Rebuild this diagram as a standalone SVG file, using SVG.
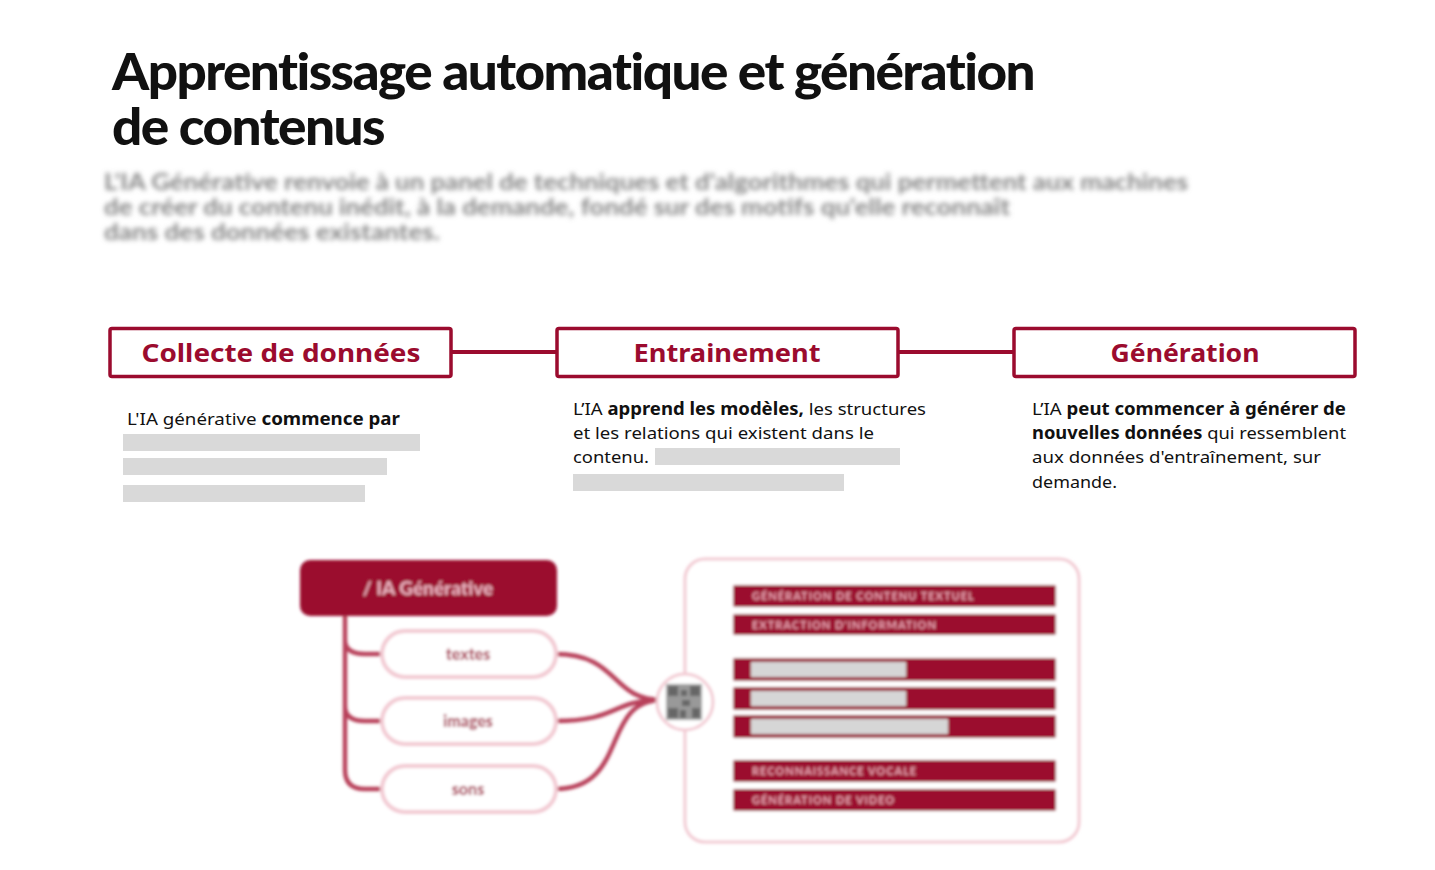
<svg xmlns="http://www.w3.org/2000/svg" width="1435" height="870" viewBox="0 0 1435 870">
<defs>
<style>
.title{font-family:Lato,"Open Sans",sans-serif;font-weight:900;font-size:51px;fill:#111;letter-spacing:-1.5px}
.intro{font-family:Lato,"Open Sans",sans-serif;font-weight:700;font-size:22px;fill:#858585}
.step{fill:#fff;stroke:#9b0b2e;stroke-width:3.5}
.stept{font-family:"Noto Sans",sans-serif;font-weight:700;font-size:25px;fill:#9b0b2e;text-anchor:middle}
.body{font-family:"Noto Sans",sans-serif;font-size:17px;fill:#111}
.b{font-weight:700}
.ph{fill:#d9d9d9}
.conn{stroke:#9b0b2e;stroke-width:4;fill:none}
.pill{fill:#fff;stroke:#f2c9d2;stroke-width:4}
.pillt{font-family:Lato,sans-serif;font-weight:900;font-size:16px;fill:#a8354f;text-anchor:middle}
.branch{stroke:#b8415a;stroke-width:4.5;fill:none}
.bar{fill:#9b0b2e}
.bart{font-family:Lato,sans-serif;font-weight:700;font-size:11px;fill:#e9a9b6;letter-spacing:1px}
.grey{fill:#d6d6d6}
</style>
<filter id="blurA" x="-5%" y="-20%" width="110%" height="140%"><feGaussianBlur stdDeviation="2.4"/></filter>
<filter id="blurB" x="-5%" y="-5%" width="110%" height="110%"><feGaussianBlur stdDeviation="1.8"/></filter>
</defs>
<rect width="1435" height="870" fill="#fff"/>

<g id="title">
<text class="title" x="112" y="90" textLength="922" lengthAdjust="spacingAndGlyphs">Apprentissage automatique et génération</text>
<text class="title" x="112" y="145" textLength="272" lengthAdjust="spacingAndGlyphs">de contenus</text>
</g>

<g id="intro" filter="url(#blurA)">
<text class="intro" x="104" y="190" textLength="1084" lengthAdjust="spacingAndGlyphs">L'IA Générative renvoie à un panel de techniques et d'algorithmes qui permettent aux machines</text>
<text class="intro" x="104" y="215" textLength="906" lengthAdjust="spacingAndGlyphs">de créer du contenu inédit, à la demande, fondé sur des motifs qu'elle reconnaît</text>
<text class="intro" x="104" y="240" textLength="336" lengthAdjust="spacingAndGlyphs">dans des données existantes.</text>
</g>

<g id="connectors">
<line class="conn" x1="452" y1="352" x2="557" y2="352"/>
<line class="conn" x1="898" y1="352" x2="1014" y2="352"/>
</g>

<g id="step1">
<rect class="step" x="110" y="328.5" width="341" height="48" rx="2"/>
<text class="stept" x="281" y="362" textLength="279" lengthAdjust="spacingAndGlyphs">Collecte  de données</text>
<text class="body" x="127" y="425" textLength="273" lengthAdjust="spacingAndGlyphs">L'IA générative <tspan class="b">commence par</tspan></text>
<rect class="ph" x="123" y="434" width="297" height="17"/>
<rect class="ph" x="123" y="458" width="264" height="17"/>
<rect class="ph" x="123" y="485" width="242" height="17"/>
</g>

<g id="step2">
<rect class="step" x="557" y="328.5" width="341" height="48" rx="2"/>
<text class="stept" x="727" y="362" textLength="187" lengthAdjust="spacingAndGlyphs">Entrainement</text>
<text class="body" x="573" y="415" textLength="353" lengthAdjust="spacingAndGlyphs">L’IA <tspan class="b">apprend les modèles,</tspan> les structures</text>
<text class="body" x="573" y="439" textLength="301" lengthAdjust="spacingAndGlyphs">et les relations qui existent  dans  le</text>
<text class="body" x="573" y="463" textLength="76" lengthAdjust="spacingAndGlyphs">contenu.</text>
<rect class="ph" x="655" y="448" width="245" height="17"/>
<rect class="ph" x="573" y="474" width="271" height="17"/>
</g>

<g id="step3">
<rect class="step" x="1014" y="328.5" width="341" height="48" rx="2"/>
<text class="stept" x="1185" y="362" textLength="149" lengthAdjust="spacingAndGlyphs">Génération</text>
<text class="body" x="1032" y="415" textLength="314" lengthAdjust="spacingAndGlyphs">L’IA <tspan class="b">peut commencer à générer de</tspan></text>
<text class="body" x="1032" y="439" textLength="314" lengthAdjust="spacingAndGlyphs"><tspan class="b">nouvelles données</tspan> qui ressemblent</text>
<text class="body" x="1032" y="463" textLength="289" lengthAdjust="spacingAndGlyphs">aux données  d'entraînement,  sur</text>
<text class="body" x="1032" y="488" textLength="85" lengthAdjust="spacingAndGlyphs">demande.</text>
</g>

<g id="illustration" filter="url(#blurB)">
<rect x="685" y="559" width="394" height="283" rx="20" fill="#fff" stroke="#f2c9d2" stroke-width="3"/>
<path class="branch" d="M345 616 V770 Q345 789 365 789 H382 M345 640 Q345 654 365 654 H382 M345 706 Q345 721 365 721 H382"/>
<path class="branch" d="M555 654 C620 654 610 700 662 700 M555 721 C620 721 610 700 662 700 M555 789 C630 789 600 700 662 700"/>
<rect x="300" y="560" width="257" height="56" rx="10" fill="#9b0b2e"/>
<text x="428" y="595" font-family="Lato,sans-serif" font-weight="900" font-size="19" fill="#e9b3bf" text-anchor="middle">/ IA Générative</text>
<rect class="pill" x="382" y="631" width="174" height="46" rx="23"/>
<text class="pillt" x="468" y="660">textes</text>
<rect class="pill" x="382" y="698" width="174" height="46" rx="23"/>
<text class="pillt" x="468" y="727">images</text>
<rect class="pill" x="382" y="766" width="174" height="46" rx="23"/>
<text class="pillt" x="468" y="795">sons</text>
<circle cx="685" cy="702" r="28" fill="#fff" stroke="#f2c9d2" stroke-width="3"/>
<g fill="#666">
<rect x="666" y="684" width="36" height="36" fill="#999"/>
<rect x="668" y="686" width="10" height="10"/><rect x="690" y="686" width="10" height="10"/><rect x="668" y="708" width="10" height="10"/>
<rect x="681" y="690" width="6" height="6"/><rect x="682" y="700" width="8" height="6"/><rect x="692" y="708" width="8" height="10"/><rect x="680" y="710" width="6" height="8"/>
</g>
<rect class="bar" x="733" y="585" width="323" height="22" rx="2"/>
<text class="bart" x="752" y="600">GÉNÉRATION DE CONTENU TEXTUEL</text>
<rect class="bar" x="733" y="614" width="323" height="21" rx="2"/>
<text class="bart" x="752" y="629">EXTRACTION D'INFORMATION</text>
<rect class="bar" x="733" y="658" width="323" height="23" rx="2"/>
<rect class="grey" x="751" y="662" width="155" height="15"/>
<rect class="bar" x="733" y="687" width="323" height="23" rx="2"/>
<rect class="grey" x="751" y="691" width="155" height="15"/>
<rect class="bar" x="733" y="715" width="323" height="23" rx="2"/>
<rect class="grey" x="751" y="719" width="197" height="15"/>
<rect class="bar" x="733" y="760" width="323" height="22" rx="2"/>
<text class="bart" x="752" y="775">RECONNAISSANCE VOCALE</text>
<rect class="bar" x="733" y="789" width="323" height="22" rx="2"/>
<text class="bart" x="752" y="804">GÉNÉRATION DE VIDEO</text>
</g>
</svg>
